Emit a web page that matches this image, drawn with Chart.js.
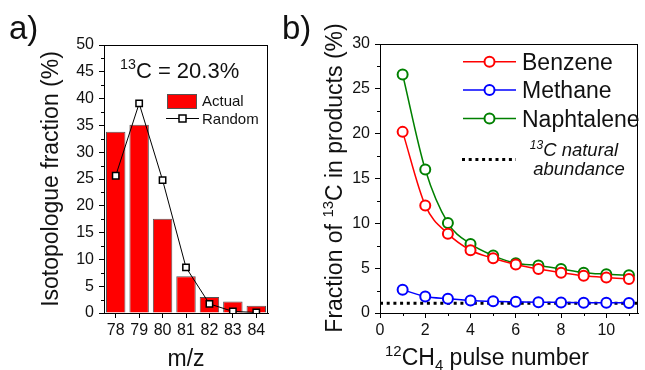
<!DOCTYPE html>
<html>
<head>
<meta charset="utf-8">
<script src="https://cdn.jsdelivr.net/npm/chart.js@4.4.0/dist/chart.umd.min.js"></script>
<style>
  html, body { margin: 0; padding: 0; background: #fff; }
  #wrap { position: relative; width: 645px; height: 370px; overflow: hidden; }
  canvas { position: absolute; top: 0; }
  #chartA { left: 0; }
  #chartB { left: 320px; }
</style>
</head>
<body>
<div id="wrap">
  <canvas id="chartA" width="320" height="370"></canvas>
  <canvas id="chartB" width="325" height="370"></canvas>
</div>
<script>
// panel a) isotopologue distribution
const massLabels = ["78", "79", "80", "81", "82", "83", "84"];
const actualFraction = [33.8, 35.1, 17.6, 6.85, 3.0, 2.15, 1.35];
const randomFraction = [25.6, 39.1, 24.8, 8.5, 1.7, 0.3, 0.1];

// panel b) 13C fraction vs pulse number
const pulseNumbers = [1, 2, 3, 4, 5, 6, 7, 8, 9, 10, 11];
const benzene = [20.2, 12.0, 8.85, 7.0, 6.1, 5.4, 4.9, 4.5, 4.15, 3.95, 3.8];
const methane = [2.6, 1.85, 1.6, 1.4, 1.3, 1.25, 1.2, 1.18, 1.15, 1.15, 1.12];
const naphtalene = [26.6, 16.0, 10.05, 7.7, 6.4, 5.55, 5.3, 4.9, 4.5, 4.33, 4.2];
const naturalAbundance = 1.1;
const pulseAxisMax = 11.4;

const FONT = "'Liberation Sans', Arial, sans-serif";
Chart.defaults.font.family = FONT;
Chart.defaults.color = "#111";

// text with superscript / subscript pieces: [text, 0 normal | 1 sup | 2 sub]
function richWidth(ctx, parts, size, style) {
  let w = 0;
  parts.forEach(p => {
    const s = p[1] ? size * 0.65 : size;
    ctx.font = style + s + "px " + FONT;
    w += ctx.measureText(p[0]).width;
  });
  return w;
}
function drawRich(ctx, parts, x, y, size, align, style) {
  style = style || "";
  let cx = x;
  if (align === "center") cx = x - richWidth(ctx, parts, size, style) / 2;
  ctx.textAlign = "left";
  ctx.textBaseline = "alphabetic";
  parts.forEach(p => {
    const s = p[1] ? size * 0.65 : size;
    ctx.font = style + s + "px " + FONT;
    let dy = 0;
    if (p[1] === 1) dy = -size * 0.4;
    if (p[1] === 2) dy = size * 0.22;
    ctx.fillText(p[0], cx, y + dy);
    cx += ctx.measureText(p[0]).width;
  });
}

// frame around plot + minor ticks
const extras = {
  id: "extras",
  afterDraw(chart, args, opts) {
    const ctx = chart.ctx;
    const a = chart.chartArea;
    const xs = chart.scales.x, ys = chart.scales.y;
    ctx.save();
    ctx.strokeStyle = "#000";
    ctx.lineWidth = 1;
    ctx.strokeRect(Math.round(a.left) + 0.5, Math.round(a.top) + 0.5,
      Math.round(a.right - a.left) - 1, Math.round(a.bottom - a.top));
    ctx.beginPath();
    (opts.minorY || []).forEach(v => {
      const py = Math.round(ys.getPixelForValue(v)) + 0.5;
      ctx.moveTo(a.left - 3, py);
      ctx.lineTo(a.left, py);
    });
    (opts.minorX || []).forEach(v => {
      const px = Math.round(xs.getPixelForValue(v)) + 0.5;
      ctx.moveTo(px, a.bottom);
      ctx.lineTo(px, a.bottom + 3);
    });
    ctx.stroke();
    ctx.fillStyle = "#111";
    if (opts.draw) opts.draw(ctx, chart);
    ctx.restore();
  }
};

const minorY50 = [];
for (let v = 2.5; v < 50; v += 5) minorY50.push(v);
const minorY30 = [];
for (let v = 2.5; v < 30; v += 5) minorY30.push(v);

function axisY(min, max, width) {
  return {
    min: min, max: max,
    afterFit: s => { s.width = width; },
    ticks: { stepSize: 5, padding: 5, font: { size: 16 }, color: "#111" },
    grid: { drawOnChartArea: false, tickLength: 5, color: "#000" },
    border: { color: "#000", width: 1 }
  };
}

new Chart(document.getElementById("chartA"), {
  type: "bar",
  data: {
    labels: massLabels,
    datasets: [
      {
        type: "line",
        label: "Random",
        data: randomFraction,
        order: 0,
        borderColor: "#000",
        borderWidth: 1,
        pointStyle: "rect",
        pointRadius: 4.5,
        pointBorderWidth: 1.5,
        pointBackgroundColor: "#fff",
        pointBorderColor: "#000",
        tension: 0
      },
      {
        label: "Actual",
        data: actualFraction,
        order: 1,
        backgroundColor: "#ff0000",
        borderColor: "#555",
        borderWidth: 1,
        barPercentage: 0.83,
        categoryPercentage: 1
      }
    ]
  },
  options: {
    responsive: false,
    animation: false,
    events: [],
    layout: { padding: { left: 0, top: 45, right: 52, bottom: 0 } },
    scales: {
      x: {
        afterFit: s => { s.height = 57; },
        ticks: { padding: 3, font: { size: 16 }, color: "#111", autoSkip: false, maxRotation: 0 },
        grid: { drawOnChartArea: false, tickLength: 5, color: "#000", offset: false },
        border: { color: "#000", width: 1 }
      },
      y: axisY(0, 50, 104)
    },
    plugins: {
      legend: { display: false },
      tooltip: { enabled: false },
      extras: {
        minorY: minorY50,
        draw(ctx) {
          ctx.font = "33px " + FONT;
          ctx.textAlign = "left";
          ctx.fillText("a)", 9, 39);
          ctx.fillText("b)", 282, 39);
          // axis titles
          ctx.save();
          ctx.translate(58, 179);
          ctx.rotate(-Math.PI / 2);
          drawRich(ctx, [["Isotopologue fraction (%)", 0]], 0, 0, 23, "center");
          ctx.restore();
          drawRich(ctx, [["m/z", 0]], 186, 366, 23, "center");
          // annotation
          drawRich(ctx, [["13", 1], ["C = 20.3%", 0]], 120, 78, 22, "left");
          // legend
          ctx.fillStyle = "#ff0000";
          ctx.fillRect(167, 94, 30, 15);
          ctx.strokeStyle = "#555";
          ctx.lineWidth = 1;
          ctx.strokeRect(167.5, 94.5, 29, 14);
          ctx.fillStyle = "#111";
          drawRich(ctx, [["Actual", 0]], 202, 106, 15, "left");
          ctx.strokeStyle = "#000";
          ctx.beginPath();
          ctx.moveTo(166, 118.5);
          ctx.lineTo(199, 118.5);
          ctx.stroke();
          ctx.fillStyle = "#fff";
          ctx.lineWidth = 1.5;
          ctx.fillRect(179, 115, 7, 7);
          ctx.strokeRect(179, 115, 7, 7);
          ctx.fillStyle = "#111";
          drawRich(ctx, [["Random", 0]], 202, 124, 15, "left");
        }
      }
    }
  },
  plugins: [extras]
});

function series(values) {
  return pulseNumbers.map((p, i) => ({ x: p, y: values[i] }));
}
function lineSet(label, values, color) {
  return {
    label: label,
    data: series(values),
    borderColor: color,
    borderWidth: 1.5,
    pointRadius: 5,
    pointBorderWidth: 2,
    pointBackgroundColor: "#fff",
    pointBorderColor: color,
    cubicInterpolationMode: "monotone"
  };
}

const legendRows = [
  ["Benzene", "#ff0000", 70],
  ["Methane", "#0000ff", 98.3],
  ["Naphtalene", "#008000", 126.6]
];

new Chart(document.getElementById("chartB"), {
  type: "line",
  data: {
    datasets: [
      lineSet("Benzene", benzene, "#ff0000"),
      lineSet("Methane", methane, "#0000ff"),
      lineSet("Naphtalene", naphtalene, "#008000"),
      {
        label: "natural abundance",
        data: [{ x: 0, y: naturalAbundance }, { x: pulseAxisMax, y: naturalAbundance }],
        borderColor: "#000",
        borderWidth: 3,
        borderDash: [3, 3.7],
        pointRadius: 0
      }
    ]
  },
  options: {
    responsive: false,
    animation: false,
    events: [],
    layout: { padding: { left: 0, top: 44, right: 1, bottom: 0 } },
    scales: {
      x: {
        type: "linear",
        min: 0, max: pulseAxisMax,
        afterFit: s => { s.height = 57; },
        ticks: { stepSize: 2, includeBounds: false, padding: 3, font: { size: 16 }, color: "#111", maxRotation: 0 },
        grid: { drawOnChartArea: false, tickLength: 5, color: "#000" },
        border: { color: "#000", width: 1 }
      },
      y: axisY(0, 30, 60)
    },
    plugins: {
      legend: { display: false },
      tooltip: { enabled: false },
      extras: {
        minorY: minorY30,
        minorX: [1, 3, 5, 7, 9, 11],
        draw(ctx) {
          ctx.save();
          ctx.translate(22, 178);
          ctx.rotate(-Math.PI / 2);
          drawRich(ctx, [["Fraction of ", 0], ["13", 1], ["C in products (%)", 0]], 0, 0, 23, "center");
          ctx.restore();
          drawRich(ctx, [["12", 1], ["CH", 0], ["4", 2], [" pulse number", 0]], 167, 365, 23, "center");
          // legend
          legendRows.forEach(r => {
            const cy = r[2] - 8.2;
            ctx.strokeStyle = r[1];
            ctx.lineWidth = 1.5;
            ctx.beginPath();
            ctx.moveTo(143, cy);
            ctx.lineTo(196, cy);
            ctx.stroke();
            ctx.fillStyle = "#fff";
            ctx.lineWidth = 2;
            ctx.beginPath();
            ctx.arc(169.5, cy, 5, 0, Math.PI * 2);
            ctx.fill();
            ctx.stroke();
            ctx.fillStyle = "#111";
            drawRich(ctx, [[r[0], 0]], 202, r[2], 23, "left");
          });
          ctx.strokeStyle = "#000";
          ctx.lineWidth = 3;
          ctx.setLineDash([3, 3.7]);
          ctx.beginPath();
          ctx.moveTo(142, 159.5);
          ctx.lineTo(196, 159.5);
          ctx.stroke();
          ctx.setLineDash([]);
          drawRich(ctx, [["13", 1], ["C natural", 0]], 254, 156, 18.5, "center", "italic ");
          drawRich(ctx, [["abundance", 0]], 259, 175, 18.5, "center", "italic ");
        }
      }
    }
  },
  plugins: [extras]
});
</script>
</body>
</html>
